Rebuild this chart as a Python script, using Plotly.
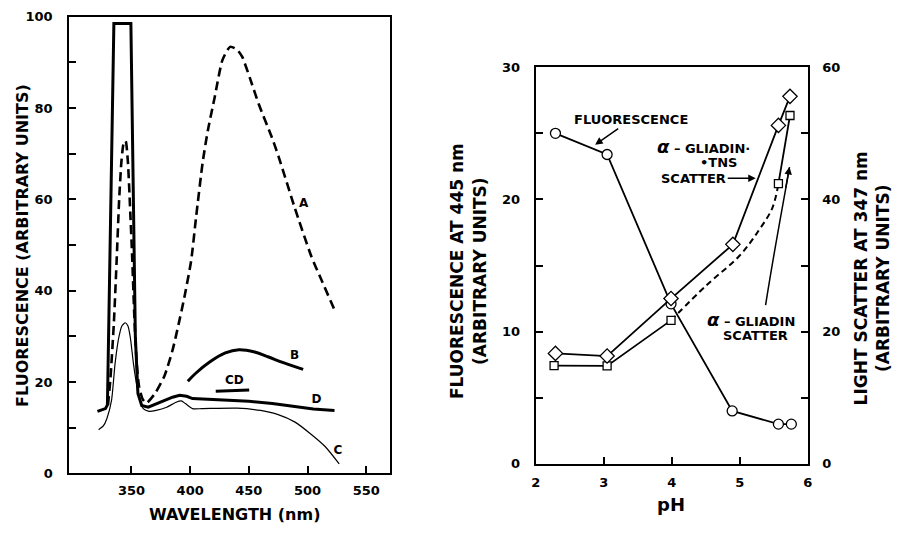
import plotly.graph_objects as go

# ---------------- Left panel data (wavelength nm, fluorescence) ----------------
a_wl = [330, 332, 335, 337.5, 339.5, 341.5, 343.5, 345, 347, 349, 350.5, 352.5, 354.5, 356.5, 359.5, 362.6,
        370, 378, 385, 390, 395, 400.8, 405, 410.6, 415, 421, 427.5, 434, 440, 444.4, 451, 458.4,
        469.6, 475.2, 489.2, 503.3, 512, 523]
a_val = [15, 20.6, 33, 47.5, 60, 68.5, 72.5, 72.8, 68, 57, 48, 34, 24, 19, 16.3, 15.4,
         17.5, 21.3, 27, 32.5, 38.5, 46.5, 56, 68, 75, 82.5, 90.5, 93.4, 92.8, 91.2, 86.5, 80.9,
         73.6, 69.5, 58.1, 47.5, 42.3, 35.8]

b_wl = [398, 405, 416.6, 430, 441.5, 455, 466.8, 480, 496.3]
b_val = [20.2, 22.0, 24.4, 26.4, 27.1, 26.6, 25.5, 24.2, 22.8]

c_wl = [322, 326, 329, 333, 336, 339, 341.8, 344.7, 347, 349, 351.7, 354, 356, 360, 365, 371, 380, 388,
        392.4, 396, 402, 410, 440, 460, 475, 489, 503, 515, 527]
c_val = [9.6, 10.4, 12, 16, 24, 29.5, 32.3, 33, 32.3, 29.8, 24, 20, 17, 14.2, 13.6, 13.8, 14.5, 15.6,
         15.9, 15.3, 14.2, 14.2, 14.3, 13.8, 12.9, 11.3, 8.6, 5.9, 2.1]

d_wl = [321, 327.8, 329.5, 335, 349.5, 353.3, 355.5, 358.7, 364.3, 375, 385, 391, 397, 402, 410.6,
        450, 470, 489, 505, 523]
d_val = [13.6, 14.2, 15, 98.5, 98.5, 30, 17.5, 14.9, 14.5, 15.6, 16.7, 17.1, 16.9, 16.4, 16.3,
         15.8, 15.3, 14.6, 14.1, 13.8]

cd_wl = [421.8, 450.3]
cd_val = [18.0, 18.3]

curve_labels = ["A", "B", "CD", "D", "C"]
curve_label_wl = [496.7, 489, 437.6, 507.7, 526]
curve_label_val = [59.1, 25.7, 20.2, 16.0, 4.9]

left_x_ticks = [350, 400, 450, 500, 550]
left_y_ticks = [0, 10, 20, 30, 40, 50, 60, 70, 80, 90, 100]
left_y_text = ["0", "", "20", "", "40", "", "60", "", "80", "", "100"]

# ---------------- Right panel data (pH) ----------------
fluor_ph = [2.29, 3.05, 3.99, 4.89, 5.57, 5.76]
fluor_val = [25.0, 23.4, 12.1, 4.0, 3.0, 3.0]

tns_ph = [2.29, 3.05, 3.99, 4.90, 5.57, 5.74]
tns_scatter = [16.7, 16.3, 25.0, 33.2, 51.2, 55.6]

gli_ph = [2.27, 3.05, 3.99, 5.57, 5.74]
gli_scatter = [14.85, 14.8, 21.7, 42.4, 52.7]

gli_dash_ph = [3.99, 4.51, 4.99, 5.28, 5.48, 5.57]
gli_dash_val = [21.7, 27.0, 31.4, 35.3, 38.7, 42.4]

right_x_ticks = [2, 3, 4, 5, 6]
right_y1_ticks = [0, 5, 10, 15, 20, 25, 30]
right_y1_text = ["0", "", "10", "", "20", "", "30"]
right_y2_ticks = [0, 10, 20, 30, 40, 50, 60]
right_y2_text = ["0", "", "20", "", "40", "", "60"]

W, H = 898, 533
FONT = "DejaVu Sans"


def px(x):
    return x / W


def py(y):
    return 1 - y / H


fig = go.Figure()

# left panel curves
fig.add_trace(go.Scatter(x=a_wl, y=a_val, mode="lines", line=dict(color="black", width=2.6, dash="9px,5px", shape="spline", smoothing=0.6),
                         xaxis="x", yaxis="y", showlegend=False))
fig.add_trace(go.Scatter(x=c_wl, y=c_val, mode="lines", line=dict(color="black", width=1.2, shape="spline", smoothing=0.6),
                         xaxis="x", yaxis="y", showlegend=False))
fig.add_trace(go.Scatter(x=d_wl, y=d_val, mode="lines", line=dict(color="black", width=3),
                         xaxis="x", yaxis="y", showlegend=False))
fig.add_trace(go.Scatter(x=b_wl, y=b_val, mode="lines", line=dict(color="black", width=3, shape="spline"),
                         xaxis="x", yaxis="y", showlegend=False))
fig.add_trace(go.Scatter(x=cd_wl, y=cd_val, mode="lines", line=dict(color="black", width=3),
                         xaxis="x", yaxis="y", showlegend=False))
fig.add_trace(go.Scatter(x=curve_label_wl, y=curve_label_val, mode="text", text=curve_labels,
                         textfont=dict(family=FONT, size=12, color="black", weight="bold"),
                         xaxis="x", yaxis="y", showlegend=False))

# right panel
fig.add_trace(go.Scatter(x=gli_dash_ph, y=gli_dash_val, mode="lines",
                         line=dict(color="black", width=2, dash="6px,4px", shape="spline"),
                         xaxis="x2", yaxis="y3", showlegend=False))
fig.add_trace(go.Scatter(x=gli_ph[:3] + [None] + gli_ph[3:], y=gli_scatter[:3] + [None] + gli_scatter[3:],
                         mode="lines+markers", line=dict(color="black", width=1.8),
                         marker=dict(symbol="square", size=8, color="white", line=dict(color="black", width=1.3)),
                         xaxis="x2", yaxis="y3", showlegend=False))
fig.add_trace(go.Scatter(x=tns_ph, y=tns_scatter, mode="lines+markers", line=dict(color="black", width=1.8),
                         marker=dict(symbol="diamond", size=11, color="white", line=dict(color="black", width=1.3)),
                         xaxis="x2", yaxis="y3", showlegend=False))
fig.add_trace(go.Scatter(x=fluor_ph, y=fluor_val, mode="lines+markers", line=dict(color="black", width=1.8),
                         marker=dict(symbol="circle", size=10, color="white", line=dict(color="black", width=1.3)),
                         xaxis="x2", yaxis="y2", showlegend=False))

tickfont = dict(family=FONT, size=13, color="black", weight="bold")
axis_common = dict(showline=True, linecolor="black", linewidth=2, mirror=True, ticks="inside",
                   tickcolor="black", tickwidth=2, ticklen=7, showgrid=False, zeroline=False,
                   tickfont=tickfont, tickmode="array")

fig.update_layout(
    width=W, height=H, margin=dict(l=0, r=0, t=0, b=0),
    paper_bgcolor="white", plot_bgcolor="white",
    xaxis=dict(domain=[px(65), px(389)], range=[297, 570], anchor="y",
               tickvals=left_x_ticks, ticklabelstandoff=4, **axis_common),
    yaxis=dict(domain=[py(480), py(10)], range=[0, 100], anchor="x",
               tickvals=left_y_ticks, ticktext=left_y_text, ticklabelstandoff=12, **axis_common),
    xaxis2=dict(domain=[px(536.7), px(811.7)], range=[2, 6], anchor="y2",
                tickvals=right_x_ticks, ticklabelstandoff=6, **axis_common),
    yaxis2=dict(domain=[py(470), py(62)], range=[0, 30], anchor="x2",
                tickvals=right_y1_ticks, ticktext=right_y1_text, ticklabelstandoff=11, **axis_common),
    yaxis3=dict(range=[0, 60], anchor="x2", overlaying="y2", side="right",
                tickvals=right_y2_ticks, ticktext=right_y2_text, ticklabelstandoff=10,
                **{k: v for k, v in axis_common.items() if k != "mirror"}),
)

title_font = dict(family=FONT, size=16, color="black", weight="bold")
title_font2 = dict(family=FONT, size=17, color="black", weight="bold")
C = dict(xanchor="center", yanchor="middle", xref="paper", yref="paper", showarrow=False)
ann = []
ann.append(dict(text="FLUORESCENCE (ARBITRARY UNITS)", x=px(17), y=py(245), textangle=-90, font=title_font, **C))
ann.append(dict(text="WAVELENGTH (nm)", x=px(232), y=py(522),
                font=dict(family=FONT, size=16, color="black", weight="bold"), **C))
ann.append(dict(text="pH", x=px(673), y=py(512), font=dict(family=FONT, size=18, color="black", weight="bold"), **C))
ann.append(dict(text="FLUORESCENCE AT 445 nm<br>(ARBITRARY UNITS)", x=px(469), y=py(272), textangle=-90,
                font=title_font2, **C))
ann.append(dict(text="LIGHT SCATTER AT 347 nm<br>(ARBITRARY UNITS)", x=px(877), y=py(279), textangle=-90,
                font=title_font2, **C))

small = dict(family=FONT, size=13, color="black", weight="bold")
arrow = dict(showarrow=True, arrowhead=2, arrowsize=1, arrowwidth=1.5, arrowcolor="black")
# FLUORESCENCE label with arrow
ann.append(dict(text="FLUORESCENCE", x=2.874, y=24.14, xref="x2", yref="y2", ax=36, ay=-25, font=small, **arrow))
# alpha-gliadin TNS label
ann.append(dict(text="<i><span style='font-size:18px'>α</span></i> – GLIADIN·", x=px(706), y=py(144),
                font=small, **C))
ann.append(dict(text="•TNS", x=px(722), y=py(160), font=small, **C))
ann.append(dict(text="SCATTER", x=5.236, y=43.2, xref="x2", yref="y3", ax=-62, ay=0, font=small, **arrow))
# alpha-gliadin scatter label
ann.append(dict(text="<i><span style='font-size:18px'>α</span></i> – GLIADIN", x=px(754), y=py(322),
                font=small, **C))
ann.append(dict(text="SCATTER", x=px(759), y=py(338), font=small, **C))
ann.append(dict(text="", x=5.733, y=44.9, xref="x2", yref="y3", ax=-4, ay=22, **arrow))
fig.update_layout(annotations=ann)

fig.add_shape(type="path", path="M 5.381,24.0 C 5.501,31.9 5.646,39.7 5.733,44.9",
              xref="x2", yref="y3", line=dict(color="black", width=1.5))

fig.write_html("out.html")
